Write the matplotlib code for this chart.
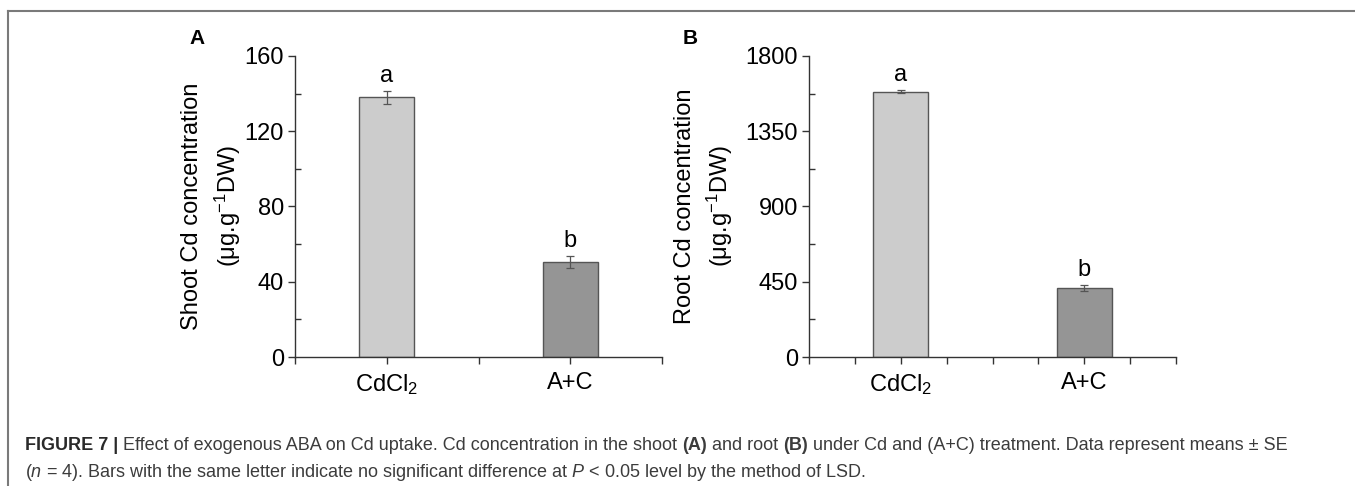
import matplotlib
matplotlib.use("Agg")
import matplotlib.pyplot as plt
from matplotlib.lines import Line2D
from matplotlib.ticker import MultipleLocator

plt.rcParams['font.family'] = ['Liberation Sans', 'DejaVu Sans']
plt.rcParams['mathtext.fontset'] = 'custom'
plt.rcParams['mathtext.rm'] = 'Liberation Sans'
plt.rcParams['mathtext.it'] = 'Liberation Sans:italic'
plt.rcParams['mathtext.bf'] = 'Liberation Sans:bold'

# ---- data ----
categories = ["CdCl$_2$", "A+C"]
shoot_values = [138, 50.5]
shoot_err = [3.3, 3.0]
root_values = [1586, 414]
root_err = [8, 18]
letters = ["a", "b"]
bar_colors = ["#cccccc", "#959595"]

W, H = 1355, 486
fig = plt.figure(figsize=(W / 100, H / 100), dpi=100)

def px_axes(left, right, top, bottom):
    return fig.add_axes([left / W, 1 - bottom / H, (right - left) / W, (bottom - top) / H])

positions = [1, 3]

def draw_panel(ax, values, errs, ymax, ystep, xminor):
    ax.bar(positions, values, width=0.6, color=bar_colors, edgecolor="#555555", linewidth=1.0, zorder=2)
    ax.errorbar(positions, values, yerr=errs, fmt="none", ecolor="#555555", elinewidth=0.9,
                capsize=3, capthick=0.9, zorder=3)
    ax.set_xlim(0, 4)
    ax.set_ylim(0, ymax)
    for s in ["top", "right"]:
        ax.spines[s].set_visible(False)
    for s in ["left", "bottom"]:
        ax.spines[s].set_color("#333333")
        ax.spines[s].set_linewidth(1.0)
    ax.set_yticks([ystep * i for i in range(5)])
    ax.yaxis.set_minor_locator(MultipleLocator(ystep / 2))
    ax.tick_params(axis="y", which="major", direction="out", length=5, width=1, color="#333333",
                   labelsize=17, pad=3)
    ax.tick_params(axis="y", which="minor", direction="in", length=4, width=1, color="#333333")
    ax.set_xticks(positions)
    ax.set_xticklabels(categories)
    ax.xaxis.set_minor_locator(MultipleLocator(xminor))
    ax.tick_params(axis="x", which="major", direction="out", length=5, width=1, color="#333333",
                   labelsize=17, pad=6)
    ax.tick_params(axis="x", which="minor", direction="out", length=5, width=1, color="#333333")
    off = ymax * 0.05
    for p, v, e, l in zip(positions, values, errs, letters):
        ax.text(p, v + e + off, l, ha="center", va="center", fontsize=17)

axA = px_axes(295, 662, 56, 357)
draw_panel(axA, shoot_values, shoot_err, 160, 40, 1.0)
axB = px_axes(809, 1176, 56, 357)
draw_panel(axB, root_values, root_err, 1800, 450, 0.5)

ycen = 1 - 206 / H
def ylabel_lines(x1, x2, line1):
    fig.text(x1 / W, ycen, line1, rotation=90, fontsize=17, ha="center", va="center")
    fig.text(x2 / W, ycen, "(μg.g$^{-1}$DW)", rotation=90, fontsize=17, ha="center", va="center")

ylabel_lines(192, 228, "Shoot Cd concentration")
ylabel_lines(685, 720, "Root Cd concentration")

fig.text(197 / W, 1 - 38 / H, "A", fontsize=15, fontweight="bold", ha="center", va="center")
fig.text(690 / W, 1 - 38 / H, "B", fontsize=15, fontweight="bold", ha="center", va="center")

# frame
fig.add_artist(Line2D([8 / W, 1.0], [1 - 11 / H, 1 - 11 / H], transform=fig.transFigure,
                      color="#7a7a7a", linewidth=1.5))
fig.add_artist(Line2D([8 / W, 8 / W], [0.0, 1 - 11 / H], transform=fig.transFigure,
                      color="#7a7a7a", linewidth=1.5))

# caption
cap_col = "#3c3c3c"
cap_fs = 13
line1_y = 1 - 445 / H
line2_y = 1 - 472 / H
t = fig.text(25 / W, line1_y, "FIGURE 7 | ", fontsize=cap_fs, fontweight="bold", color="#2a2a2a",
             ha="left", va="center")
fig.canvas.draw()
renderer = fig.canvas.get_renderer()
x0 = t.get_window_extent(renderer).x1
parts = [
    ("Effect of exogenous ABA on Cd uptake. Cd concentration in the shoot ", "normal"),
    ("(A)", "bold"),
    (" and root ", "normal"),
    ("(B)", "bold"),
    (" under Cd and (A+C) treatment. Data represent means ± SE", "normal"),
]
for txt, w in parts:
    tt = fig.text(x0 / W, line1_y, txt, fontsize=cap_fs, fontweight=w, color=cap_col,
                  ha="left", va="center")
    x0 = tt.get_window_extent(renderer).x1

fig.text(25 / W, line2_y,
         "($n$ = 4). Bars with the same letter indicate no significant difference at $P$ < 0.05 level by the method of LSD.",
         fontsize=cap_fs, color=cap_col, ha="left", va="center")

fig.savefig("out.png", dpi=100)
